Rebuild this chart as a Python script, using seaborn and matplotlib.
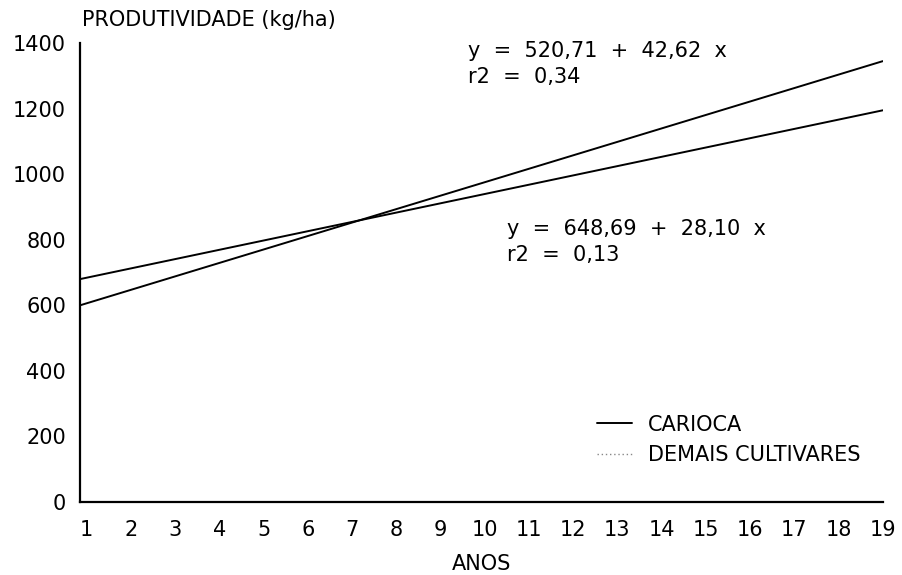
import numpy as np
import pandas as pd
import seaborn as sns
import matplotlib.pyplot as plt
from matplotlib.lines import Line2D

# values (end points of the two fitted lines)
anos = [0.85, 19]
carioca = [600, 1345]
demais = [680, 1195]
x_ticks = list(range(1, 20))
y_ticks = [0, 200, 400, 600, 800, 1000, 1200, 1400]

eq_carioca = "y  =  520,71  +  42,62  x\nr2  =  0,34"
eq_demais = "y  =  648,69  +  28,10  x\nr2  =  0,13"


def build_frame():
    df = pd.DataFrame({
        "ano": anos * 2,
        "prod": carioca + demais,
        "serie": ["CARIOCA"] * len(anos) + ["DEMAIS CULTIVARES"] * len(anos),
    })
    return df


def plot_chart(df):
    sns.set_style("white")
    plt.rcParams['font.family'] = ['DejaVu Sans']
    plt.rcParams['text.color'] = 'black'
    plt.rcParams['axes.labelcolor'] = 'black'
    FONT_SIZE = 15

    fig = plt.figure(figsize=(9.03, 5.75), dpi=100)
    ax = fig.add_axes([0.0886, 0.127, 0.889, 0.798])

    sns.lineplot(data=df, x="ano", y="prod", hue="serie",
                 palette={"CARIOCA": "black", "DEMAIS CULTIVARES": "black"},
                 linewidth=1.4, legend=False, ax=ax)

    ax.set_xlim(0.85, 19.0)
    ax.set_ylim(0, 1400)
    ax.set_xticks(x_ticks)
    ax.set_yticks(y_ticks)
    ax.tick_params(axis='both', length=0, labelsize=FONT_SIZE, colors='black')
    ax.tick_params(axis='x', pad=13)
    ax.tick_params(axis='y', pad=10)

    sns.despine(ax=ax)
    for side in ['left', 'bottom']:
        ax.spines[side].set_color('black')
        ax.spines[side].set_linewidth(1.6)

    ax.set_xlabel("ANOS", fontsize=FONT_SIZE, labelpad=10)
    ax.set_ylabel("")
    fig.text(82 / 903, 1 - 20 / 575, "PRODUTIVIDADE (kg/ha)",
             fontsize=FONT_SIZE, va='center', ha='left')

    fig.text(468 / 903, 1 - 64 / 575, eq_carioca, fontsize=FONT_SIZE,
             va='center', ha='left', linespacing=1.35)
    fig.text(507 / 903, 1 - 242 / 575, eq_demais, fontsize=FONT_SIZE,
             va='center', ha='left', linespacing=1.35)

    handles = [
        Line2D([], [], color='black', linewidth=1.4),
        Line2D([], [], color='#888888', linewidth=1.0, linestyle=(0, (1, 2))),
    ]
    ax.legend(handles, ["CARIOCA", "DEMAIS CULTIVARES"], loc='upper left',
              bbox_to_anchor=(0.631, 0.213), frameon=False, fontsize=FONT_SIZE,
              handlelength=1.7, handletextpad=0.75, labelspacing=0.5,
              borderpad=0)
    return fig


def main():
    df = build_frame()
    fig = plot_chart(df)
    fig.savefig("out.png", dpi=100)
    plt.close(fig)


if __name__ == "__main__":
    main()
